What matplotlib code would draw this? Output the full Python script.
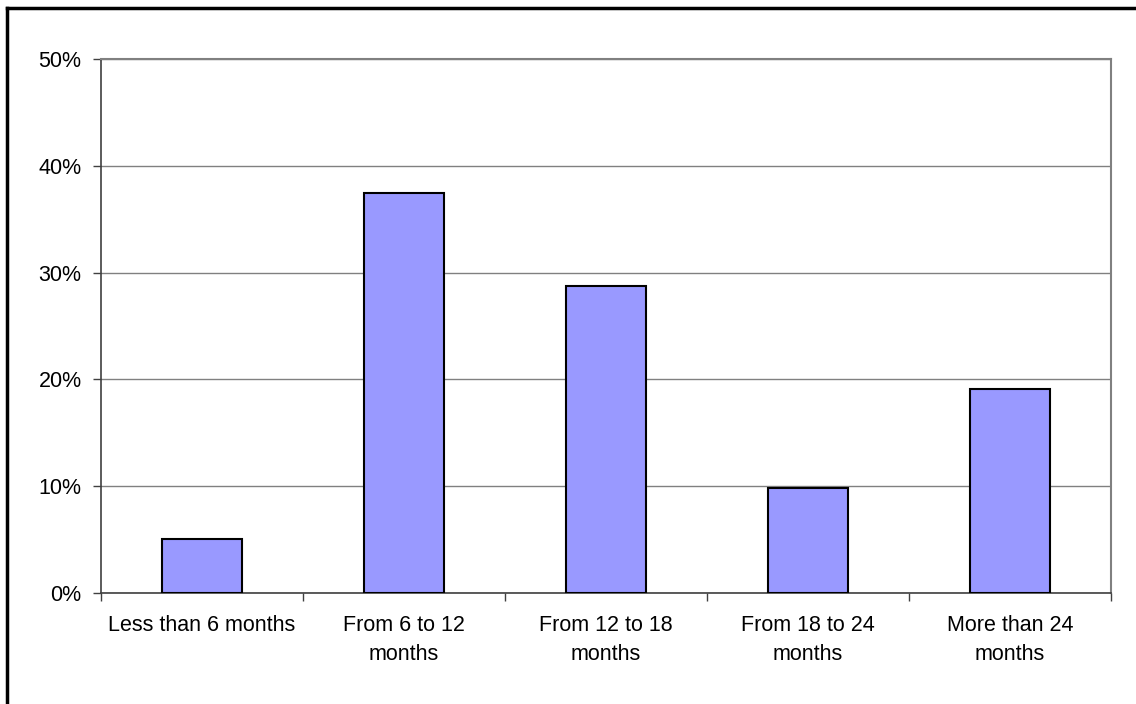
import matplotlib
matplotlib.use("Agg")
import matplotlib.pyplot as plt
from matplotlib.lines import Line2D
from matplotlib.ticker import FuncFormatter

categories = ["Less than 6 months", "From 6 to 12\nmonths", "From 12 to 18\nmonths",
              "From 18 to 24\nmonths", "More than 24\nmonths"]
values = [5.1, 37.5, 28.7, 9.8, 19.1]
y_ticks = [0, 10, 20, 30, 40, 50]

plt.rcParams["font.family"] = ["Liberation Sans", "DejaVu Sans"]

W, H = 1136, 704
fig = plt.figure(figsize=(W / 100, H / 100), dpi=100)
ax = fig.add_axes([101 / W, 1 - 593 / H, (1111 - 101) / W, (593 - 59) / H])

x = list(range(len(categories)))
ax.bar(x, values, width=0.4, color="#9999FF", edgecolor="black", linewidth=1.5, zorder=3)

ax.set_xlim(-0.5, len(categories) - 0.5)
ax.set_ylim(0, 50)
ax.set_yticks(y_ticks)
ax.yaxis.set_major_formatter(FuncFormatter(lambda v, _: f"{v:.0f}%"))
ax.yaxis.grid(True, color="#808080", linewidth=1.0, zorder=0)

ax.set_xticks([i + 0.5 for i in range(-1, len(categories))], minor=False)
ax.set_xticklabels([])
ax.set_xticks(x, minor=True)
ax.set_xticklabels(categories, minor=True, fontsize=15.5, linespacing=1.5)
ax.tick_params(axis="x", which="minor", length=0, pad=16)
ax.tick_params(axis="x", which="major", length=6, width=1, color="#404040", direction="out")
ax.tick_params(axis="y", length=6, width=1, color="#404040", direction="out", labelsize=15.5, pad=8)

for side in ("left", "bottom"):
    ax.spines[side].set_color("#404040")
    ax.spines[side].set_linewidth(1.2)
for side in ("top", "right"):
    ax.spines[side].set_color("#808080")
    ax.spines[side].set_linewidth(1.5)

# Outer frame around the chart area
fig.add_artist(Line2D([7 / W, 7 / W], [0, 1 - 7.5 / H], transform=fig.transFigure,
                      color="black", linewidth=2.5))
fig.add_artist(Line2D([7 / W, 1], [1 - 7.5 / H, 1 - 7.5 / H], transform=fig.transFigure,
                      color="black", linewidth=2.5))

fig.savefig("out.png", dpi=100)
